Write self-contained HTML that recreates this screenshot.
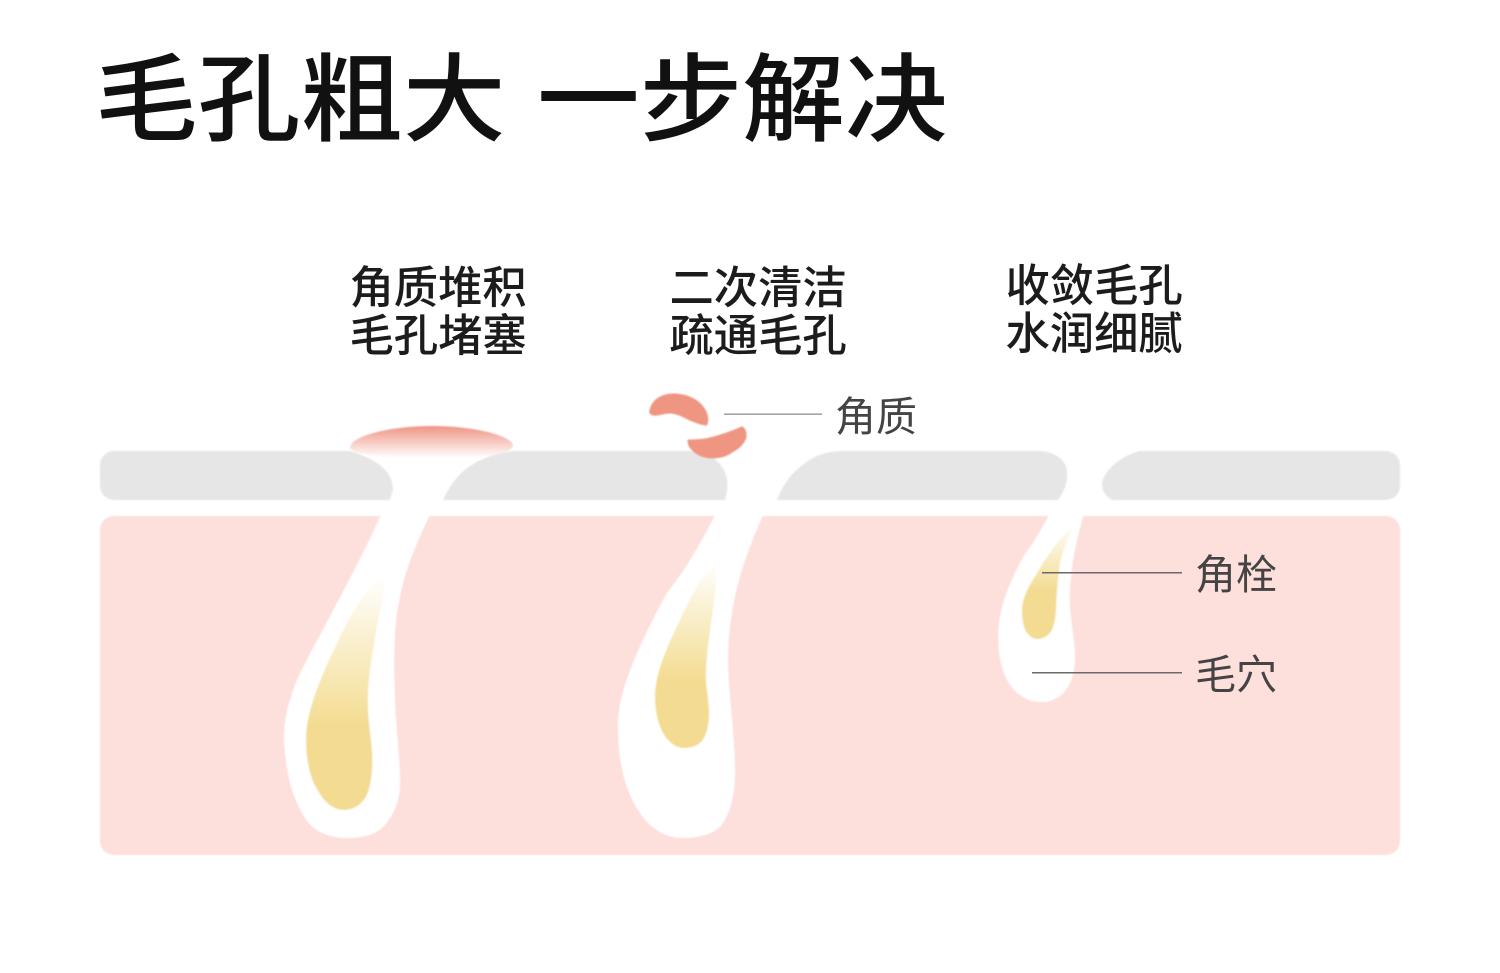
<!DOCTYPE html>
<html lang="zh"><head><meta charset="utf-8"><style>
html,body{margin:0;padding:0;background:#fff;width:1500px;height:973px;overflow:hidden}
svg{display:block}
text{font-family:"Liberation Sans","Noto Sans CJK SC",sans-serif}
</style></head><body>
<svg width="1500" height="973" viewBox="0 0 1500 973" xmlns="http://www.w3.org/2000/svg">
<defs>
<filter id="soft" x="-5%" y="-5%" width="110%" height="110%"><feGaussianBlur stdDeviation="0.7"/></filter>
<linearGradient id="k" gradientUnits="userSpaceOnUse" x1="0" y1="426" x2="0" y2="458"><stop offset="0" stop-color="#ef9484"/><stop offset="1" stop-color="#fff"/></linearGradient>
<linearGradient id="y1" gradientUnits="userSpaceOnUse" x1="0" y1="575" x2="0" y2="725"><stop offset="0" stop-color="#f3dc91" stop-opacity="0"/><stop offset="1" stop-color="#f3dc91"/></linearGradient>
<linearGradient id="y2" gradientUnits="userSpaceOnUse" x1="0" y1="560" x2="0" y2="680"><stop offset="0" stop-color="#f3dc91" stop-opacity="0"/><stop offset="1" stop-color="#f3dc91"/></linearGradient>
<linearGradient id="y3" gradientUnits="userSpaceOnUse" x1="0" y1="522" x2="0" y2="590"><stop offset="0" stop-color="#f3dc91" stop-opacity="0"/><stop offset="1" stop-color="#f3dc91"/></linearGradient>
</defs>
<rect width="1500" height="973" fill="#fff"/>
<g filter="url(#soft)">
<rect x="100" y="451" width="1300" height="49" rx="14" fill="#e6e6e6"/>
<rect x="100" y="516" width="1300" height="339" rx="14" fill="#fddfdc"/>

<!-- follicle 1 -->
<path fill="#fff" d="M350 451 C372 458 393 468 393 490 L390 500 C386 506 383 511 380 517 C366 548 352 575 337 603 C322 632 306 660 297 680 C288 702 284 720 284 740 C285 760 288 778 293 793 C300 812 308 825 317 830 C326 836 336 838 347 838 C362 838 375 835 383 827 C394 816 400 800 400 783 C400 755 396 730 395 700 C394 675 394 655 395 633 C396 615 399 600 403 583 C410 558 420 535 430 515 L443 500 C450 485 458 474 470 466 C482 458 497 453 513 451 L513 445 L350 445 Z"/>
<path fill="url(#k)" d="M350 448 C350 436 390 426 432 426 C475 426 513 436 513 446 C513 450 500 456 470 458 L395 458 C370 456 350 452 350 448 Z"/>
<path fill="url(#y1)" d="M383 574 C365 590 350 615 337 643 C322 675 306 710 306 740 C306 760 310 778 318 791 C325 803 334 810 344 810 C355 810 364 803 368 792 C372 780 373 765 372 750 C370 730 367 712 368 693 C369 670 373 650 377 627 C380 610 384 595 385 580 Z"/>

<!-- follicle 2 -->
<path fill="#fff" d="M690 451 C705 453 717 458 722 467 C728 475 729 487 725 500 C722 506 718 511 714 517 C700 545 685 570 667 593 C655 615 643 638 633 663 C624 685 618 705 618 727 C618 750 621 770 627 787 C634 807 645 823 657 830 C665 836 674 838 683 838 C698 838 711 835 720 827 C730 815 735 795 735 773 C735 735 729 700 728 663 C728 645 729 630 732 613 C738 575 750 545 763 515 L777 500 C783 485 790 475 800 467 C812 457 822 452 840 451 L840 445 L690 445 Z"/>
<path fill="url(#y2)" d="M717 560 C702 575 690 598 680 620 C668 645 655 672 655 697 C655 712 658 723 663 733 C669 743 676 748 684 748 C693 748 700 745 704 738 C708 730 709 722 709 713 C709 698 705 685 706 670 C707 645 712 620 715 593 C716 582 717 570 717 560 Z"/>
<path fill="#ee9681" stroke="#ee9681" stroke-width="3" stroke-linejoin="round" d="M651 410 C653 401 662 395 673 395 C685 395 695 399 701 406 C706 412 708 418 706 424 C703 424 697 422 690 419 C682 415 676 412 670 412 C664 412 656 415 653 414 C651 413 650 412 651 410 Z"/>
<path fill="#ee9681" stroke="#ee9681" stroke-width="3" stroke-linejoin="round" d="M689 441 C695 441 703 441 710 439 C722 436 733 432 742 428 C745 430 745 433 745 437 C743 443 738 448 732 451 C727 455 720 457 713 457 C706 457 700 455 696 452 C692 449 689 445 689 441 Z"/>

<!-- follicle 3 -->
<path fill="#fff" d="M1040 451 C1055 452 1067 460 1067 472 C1068 482 1064 492 1058 500 L1048 517 C1040 532 1032 545 1023 557 C1012 578 1003 598 1000 617 C997 635 998 652 1002 667 C1006 682 1014 692 1023 697 C1029 701 1036 702 1043 702 C1053 702 1062 696 1068 687 C1073 678 1075 668 1075 657 C1075 640 1071 625 1070 607 C1069 575 1075 545 1083 517 C1086 510 1090 505 1112 500 C1104 495 1102 490 1102 483 C1104 470 1122 455 1140 451 Z"/>
<path fill="url(#y3)" d="M1075 523 C1062 535 1052 550 1043 563 C1033 580 1022 595 1022 610 C1022 622 1024 630 1028 634 C1031 638 1035 639 1038 639 C1044 639 1049 635 1052 630 C1055 622 1056 615 1056 607 C1057 590 1058 577 1060 563 C1063 548 1070 535 1075 523 Z"/>
</g>
<rect x="724" y="413.5" width="98" height="1.3" fill="#8f8f8f"/>
<rect x="1042" y="572" width="140" height="1.5" fill="#6f686a"/>
<rect x="1032" y="672" width="150" height="1.5" fill="#6f686a"/>

<!-- title -->
<g font-size="101" font-weight="500" fill="#111">
<text transform="translate(95,133.5) scale(1.016,.948)">毛孔粗大</text>
<text transform="translate(537,133.5) scale(1.016,.948)">一步解决</text>
</g>
<!-- captions -->
<g font-size="44.3" font-weight="500" fill="#1c1c1c">
<text x="349.5" y="303">角质堆积</text>
<text x="349.5" y="351">毛孔堵塞</text>
<text x="669.5" y="303">二次清洁</text>
<text x="669.5" y="351">疏通毛孔</text>
<text x="1005.5" y="301">收敛毛孔</text>
<text x="1005.5" y="349">水润细腻</text>
</g>
<g font-size="41" fill="#444">
<text x="835" y="431">角质</text>
<text x="1195" y="589">角栓</text>
<text x="1195" y="689">毛穴</text>
</g>
</svg>
</body></html>
